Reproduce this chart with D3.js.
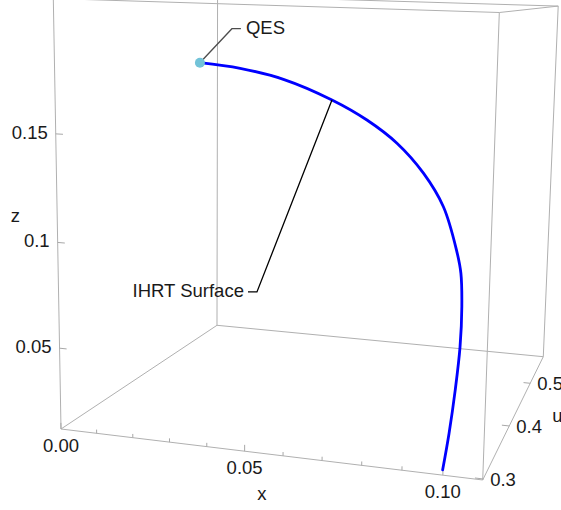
<!DOCTYPE html>
<html>
<head>
<meta charset="utf-8">
<script src="https://d3js.org/d3.v7.min.js"></script>
<style>
  body { margin: 0; background: #fff; }
  text { font-family: "Liberation Sans", Arial, sans-serif; font-size: 18.5px; fill: #1a1a1a; }
</style>
</head>
<body>
<svg width="561" height="510"></svg>

<script>
// curve values (x, u, z along the IHRT surface path)
const xs = [0, 0.0143, 0.0295, 0.0463, 0.0584, 0.0687, 0.0780, 0.0852, 0.0906, 0.0930, 0.0948, 0.0965, 0.0976, 0.0987, 0.0997];
const us = [0.536, 0.530, 0.522, 0.511, 0.500, 0.489, 0.475, 0.461, 0.444, 0.431, 0.414, 0.389, 0.362, 0.331, 0.301];
const zs = [0.1728, 0.1709, 0.1663, 0.1569, 0.1478, 0.1372, 0.1236, 0.1084, 0.0889, 0.0793, 0.0654, 0.0502, 0.0350, 0.0216, 0.0125];

// plot range
const xDomain = [0, 0.1096];
const uDomain = [0.2983, 0.574];
const zDomain = [0.0109, 0.2105];

// ticks
const xTicks = [0, 0.05, 0.10];
const xTickLabels = ["0.00", "0.05", "0.10"];
const xMinorTicks = [0.01, 0.02, 0.03, 0.04, 0.06, 0.07, 0.08, 0.09];
const uTicks = [0.3, 0.4, 0.5];
const uTickLabels = ["0.3", "0.4", "0.5"];
const zTicks = [0.05, 0.1, 0.15];
const zTickLabels = ["0.05", "0.1", "0.15"];

const qesIndex = 0;      // QES point = start of curve
const ihrtIndex = 3;     // where the IHRT Surface callout touches

var svg = d3.select('svg');

var sx = d3.scaleLinear().domain(xDomain).range([0, 1]);
var su = d3.scaleLinear().domain(uDomain).range([0, 1]);
var sz = d3.scaleLinear().domain(zDomain).range([0, 1]);

// perspective camera for the unit box (homogeneous 3x4 projection)
var cam = {
  p0: [61, 429],
  pa: [382.75, 12.26],
  pb: [222.7, -3.7],
  pc: [-10.44, -430.4],
  w: [-0.0807, 0.3074, -0.0515]
};

function proj(a, b, c) {
  var d = 1 + a * cam.w[0] + b * cam.w[1] + c * cam.w[2];
  return [
    (cam.p0[0] + a * cam.pa[0] + b * cam.pb[0] + c * cam.pc[0]) / d,
    (cam.p0[1] + a * cam.pa[1] + b * cam.pb[1] + c * cam.pc[1]) / d
  ];
}
function P(x, u, z) { return proj(sx(x), su(u), sz(z)); }

var line = d3.line();

// box edges
var X = xDomain, U = uDomain, Z = zDomain;
var edges = [];
[0, 1].forEach(i => [0, 1].forEach(j => {
  edges.push([P(X[0], U[i], Z[j]), P(X[1], U[i], Z[j])]);
  edges.push([P(X[i], U[0], Z[j]), P(X[i], U[1], Z[j])]);
  edges.push([P(X[i], U[j], Z[0]), P(X[i], U[j], Z[1])]);
}));

svg.append('g').attr('id', 'box')
  .selectAll('path')
  .data(edges)
  .enter()
  .append('path')
    .attr('d', line)
    .attr('fill', 'none')
    .attr('stroke', '#b0b0b0')
    .attr('stroke-width', 1);

var ticks = svg.append('g').attr('id', 'ticks')
  .attr('stroke', '#a8a8a8').attr('stroke-width', 1);

// x axis: front bottom edge, ticks point up
var zt = sz.invert(0.015) - Z[0], ztMinor = sz.invert(0.009) - Z[0];
ticks.selectAll('.xt')
  .data(xTicks.map(v => [v, zt]).concat(xMinorTicks.map(v => [v, ztMinor])))
  .enter().append('path')
    .attr('d', d => line([P(d[0], U[0], Z[0]), P(d[0], U[0], Z[0] + d[1])]));

// z axis: front left edge, ticks point right
var xt = sx.invert(0.018);
ticks.selectAll('.zt')
  .data(zTicks)
  .enter().append('path')
    .attr('d', d => line([P(X[0], U[0], d), P(X[0] + xt, U[0], d)]));

// u axis: right bottom edge, ticks point left
ticks.selectAll('.ut')
  .data(uTicks)
  .enter().append('path')
    .attr('d', d => line([P(X[1], d, Z[0]), P(X[1] - xt, d, Z[0])]));

// tick labels
svg.append('g')
  .selectAll('text')
  .data(xTicks)
  .enter().append('text')
    .attr('x', d => P(d, U[0], Z[0])[0])
    .attr('y', d => P(d, U[0], Z[0])[1] + 18)
    .attr('text-anchor', 'middle')
    .attr('dominant-baseline', 'middle')
    .text((d, i) => xTickLabels[i]);

svg.append('g')
  .selectAll('text')
  .data(zTicks)
  .enter().append('text')
    .attr('x', d => P(X[0], U[0], d)[0] - 8)
    .attr('y', d => P(X[0], U[0], d)[1])
    .attr('text-anchor', 'end')
    .attr('dominant-baseline', 'middle')
    .text((d, i) => zTickLabels[i]);

svg.append('g')
  .selectAll('text')
  .data(uTicks)
  .enter().append('text')
    .attr('x', d => P(X[1], d, Z[0])[0] + 7)
    .attr('y', d => P(X[1], d, Z[0])[1] + 2)
    .attr('text-anchor', 'start')
    .attr('dominant-baseline', 'middle')
    .text((d, i) => uTickLabels[i]);

// axis titles
var xm = P((X[0] + X[1]) / 2, U[0], Z[0]);
svg.append('text').attr('x', xm[0] - 1).attr('y', xm[1] + 42)
  .attr('text-anchor', 'middle').attr('dominant-baseline', 'middle').text('x');
var zm = P(X[0], U[0], (Z[0] + Z[1]) / 2);
svg.append('text').attr('x', zm[0] - 42).attr('y', zm[1] - 2)
  .attr('text-anchor', 'middle').attr('dominant-baseline', 'middle').text('z');
var um = P(X[1], (U[0] + U[1]) / 2, Z[0]);
svg.append('text').attr('x', um[0] + 40).attr('y', um[1] + 8)
  .attr('text-anchor', 'middle').attr('dominant-baseline', 'middle').text('u');

// the curve
var pts = xs.map((x, i) => P(x, us[i], zs[i]));
svg.append('path')
  .attr('d', d3.line().curve(d3.curveCatmullRom.alpha(0.5))(pts))
  .attr('fill', 'none')
  .attr('stroke', '#0000ff')
  .attr('stroke-width', 2.8)
  .attr('stroke-linecap', 'round');

// callouts
var q = pts[qesIndex];
svg.append('path')
  .attr('d', line([q, [q[0] + 32, q[1] - 34], [q[0] + 41, q[1] - 34]]))
  .attr('fill', 'none').attr('stroke', '#4d4d4d').attr('stroke-width', 1.3);
svg.append('text').attr('x', q[0] + 46).attr('y', q[1] - 34)
  .attr('dominant-baseline', 'middle').text('QES');

var h = pts[ihrtIndex];
svg.append('path')
  .attr('d', line([h, [h[0] - 75, h[1] + 192], [h[0] - 84, h[1] + 192]]))
  .attr('fill', 'none').attr('stroke', '#000').attr('stroke-width', 1.3);
svg.append('text').attr('x', h[0] - 88).attr('y', h[1] + 192)
  .attr('text-anchor', 'end').attr('dominant-baseline', 'middle').text('IHRT Surface');

// QES point
svg.append('circle')
  .attr('cx', q[0]).attr('cy', q[1]).attr('r', 5)
  .attr('fill', '#72c3d8');
</script>
</body>
</html>
